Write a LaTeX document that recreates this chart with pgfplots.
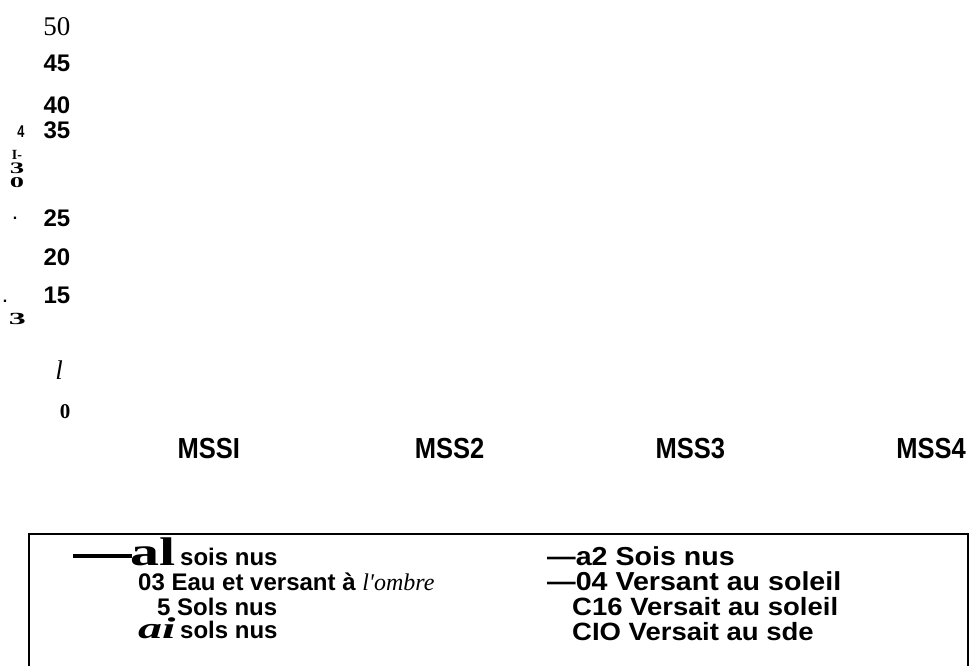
\documentclass[border=0pt]{standalone}
\usepackage{fontspec}
\setmainfont{Liberation Sans}
\newfontfamily\tnr{Liberation Serif}
\newfontfamily\arw[FakeStretch=1.1]{Liberation Sans}
\newfontfamily\arn[FakeStretch=0.88]{Liberation Sans}
\usepackage{graphicx}
\usepackage{pgfplots}
\pgfplotsset{compat=1.18}
\newcommand{\fs}[1]{\fontsize{#1}{#1}\selectfont}
\begin{document}
\begin{tikzpicture}
\path[use as bounding box] (0,0) rectangle (970pt,-665pt);
\begin{axis}[
  scale only axis, width=842.5pt, height=385pt,
  at={(88.5pt,-412pt)}, anchor=south west,
  xmin=-0.5, xmax=3, ymin=0, ymax=50,
  axis line style={draw=none}, major tick length=0pt, tick style={draw=none},
  xtick={0,1,2,3}, xticklabels={MSSI,MSS2,MSS3,MSS4},
  xticklabel style={anchor=north, inner sep=0pt, yshift=-26pt, font=\arn\bfseries\fs{29}},
  ytick={0,5.45,15.1,20.1,25.2,36.6,39.9,45.3,50},
  yticklabels={{\tnr\bfseries\fs{21}0},{\tnr\mdseries\itshape\fs{27}l\hspace*{7.5pt}},15,20,25,35,40,45,{\tnr\mdseries\fs{27}50}},
  yticklabel style={anchor=east, inner sep=0pt, xshift=-18pt, font=\bfseries\fs{24}},
]
\end{axis}
% stray glyphs of the garbled y-axis title
\node[inner sep=0pt, font=\bfseries\fs{17}] at (21pt,-132pt) {\scalebox{0.75}[1]{4}};
\node[inner sep=0pt, font=\tnr\bfseries\fs{14}] at (17pt,-155pt) {I-};
\node[inner sep=0pt, font=\tnr\bfseries\fs{16}] at (17pt,-168pt) {\scalebox{1.8}[1]{3}};
\node[inner sep=0pt, font=\tnr\bfseries\fs{15}] at (17pt,-183pt) {\scalebox{1.9}[1]{0}};
\node[inner sep=0pt, font=\bfseries\fs{16}] at (15pt,-218.5pt) {.};
\node[inner sep=0pt, font=\bfseries\fs{16}] at (5pt,-301.5pt) {.};
\node[inner sep=0pt, font=\tnr\bfseries\fs{17}] at (17.5pt,-319pt) {\scalebox{2}[1]{3}};
% legend box
\draw[line width=2pt] (29pt,-670pt) -- (29pt,-534pt) -- (968pt,-534pt) -- (968pt,-670pt);
\draw[line width=3.3pt] (73pt,-556pt) -- (132pt,-556pt);
\begin{scope}[every node/.style={anchor=base west, inner sep=0pt}]
\node[font=\tnr\bfseries\fs{40}] at (130pt,-565pt) {\scalebox{1.45}[1]{al}};
\node[font=\bfseries\fs{24}] at (180pt,-565pt) {sois nus};
\node[font=\bfseries\fs{24}] at (138pt,-590pt) {03 Eau et versant à {\tnr\mdseries\itshape l'ombre}};
\node[font=\bfseries\fs{24}] at (157pt,-615pt) {5 Sols nus};
\node[font=\tnr\bfseries\itshape\fs{30}] at (138pt,-638pt) {\scalebox{1.6}[1]{ai}};
\node[font=\bfseries\fs{24}] at (180pt,-638pt) {sols nus};
\node[font=\arw\bfseries\fs{26}] at (547pt,-565pt) {—a2 Sois nus};
\node[font=\arw\bfseries\fs{26}] at (547pt,-590pt) {—04 Versant au soleil};
\node[font=\arw\bfseries\fs{25}] at (572pt,-615pt) {C16 Versait au soleil};
\node[font=\arw\bfseries\fs{25}] at (572pt,-640pt) {CIO Versait au sde};
\end{scope}
\end{tikzpicture}
\end{document}
